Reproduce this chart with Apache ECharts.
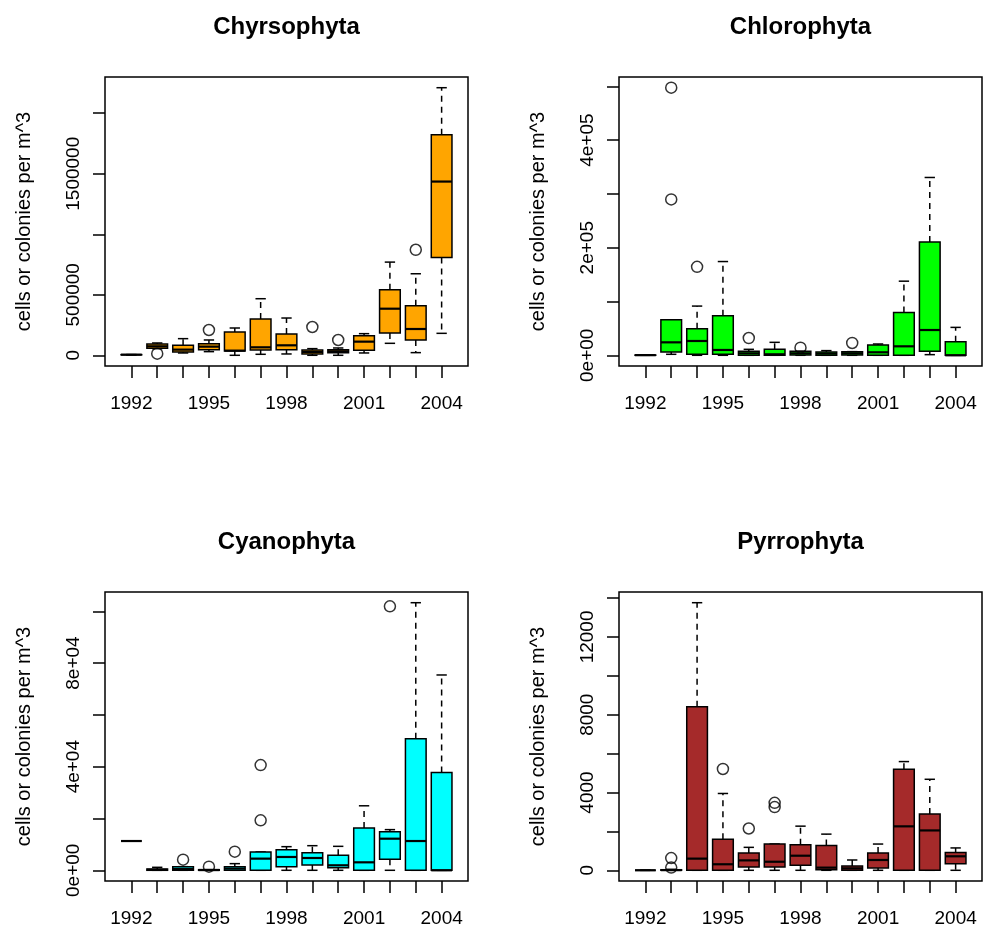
<!DOCTYPE html>
<html><head><meta charset="utf-8">
<script src="https://cdn.jsdelivr.net/npm/echarts@6/dist/echarts.min.js"></script>
<style>html,body{margin:0;padding:0;background:#fff}#c{width:984px;height:929px}</style>
</head><body><div id="c"></div>
<script>
// ---- data ----
const years = ['1992','1993','1994','1995','1996','1997','1998','1999','2000','2001','2002','2003','2004'];
const xLabelYears = ['1992','1995','1998','2001','2004'];
const yAxisTitle = 'cells or colonies per m^3';

// each row: [lower whisker, Q1, median, Q3, upper whisker]
const chrysophytaStats = [
  [3000, 4000, 5000, 5500, 6000],
  [55000, 57750, 74250, 93500, 101750],
  [19250, 27500, 46750, 82500, 137500],
  [30250, 46750, 71500, 96250, 126500],
  [0, 35750, 38500, 192500, 225500],
  [8250, 44000, 66000, 299750, 467500],
  [11000, 46750, 82500, 176000, 308000],
  [0, 11000, 27500, 44000, 55000],
  [0, 22000, 33000, 46750, 60500],
  [19250, 41250, 112750, 162250, 178750],
  [99000, 184250, 385000, 541750, 770000],
  [22000, 126500, 217250, 409750, 673750],
  [181500, 808500, 1435500, 1823250, 2211000]
];
const chrysophytaOutliers = [['1993', 13750], ['1995', 209000], ['1999', 233750], ['2000', 126500], ['2003', 871750]];
const chrysophytaTicks = [0, 500000, 1000000, 1500000, 2000000];
const chrysophytaLabelValues = [0, 500000, 1500000];
const chrysophytaLabels = ['0', '500000', '1500000'];

const chlorophytaStats = [
  [0, 0, 300, 500, 800],
  [1850, 6200, 24100, 66000, 66000],
  [0, 1850, 26600, 49400, 91500],
  [0, 1850, 9900, 73500, 174300],
  [0, 0, 3700, 7400, 11100],
  [0, 0, 1850, 11100, 24100],
  [0, 600, 3700, 7400, 7400],
  [0, 0, 3100, 6200, 8700],
  [0, 600, 3700, 6800, 6800],
  [0, 0, 5600, 19200, 21000],
  [0, 0, 16700, 79700, 137800],
  [1200, 7400, 47000, 210700, 330600],
  [0, 0, 0, 25300, 51900]
];
const chlorophytaOutliers = [['1993', 289800], ['1993', 497500], ['1994', 164400], ['1996', 32100], ['1998', 14200], ['2000', 22900]];
const chlorophytaTicks = [0, 100000, 200000, 300000, 400000, 500000];
const chlorophytaLabelValues = [0, 200000, 400000];
const chlorophytaLabels = ['0e+00', '2e+05', '4e+05'];

const cyanophytaStats = [
  [11300, 11300, 11300, 11300, 11300],
  [0, 0, 200, 500, 1150],
  [0, 0, 500, 1400, 1400],
  [0, 0, 100, 250, 250],
  [0, 0, 650, 1400, 2570],
  [0, 0, 4500, 7070, 7070],
  [0, 1400, 5140, 7970, 9120],
  [0, 2060, 4750, 6800, 9500],
  [0, 1030, 1930, 5780, 9250],
  [0, 0, 3080, 16300, 24900],
  [0, 4240, 12200, 14900, 15700],
  [0, 0, 11300, 50800, 103300],
  [0, 0, 0, 37800, 75400]
];
const cyanophytaOutliers = [['1994', 4100], ['1995', 1400], ['1996', 7200], ['1997', 19300], ['1997', 40600], ['2002', 101900]];
const cyanophytaTicks = [0, 20000, 40000, 60000, 80000, 100000];
const cyanophytaLabelValues = [0, 40000, 80000];
const cyanophytaLabels = ['0e+00', '4e+04', '8e+04'];

const pyrrophytaStats = [
  [0, 0, 0, 0, 0],
  [0, 0, 10, 30, 50],
  [0, 0, 600, 8410, 13760],
  [0, 0, 310, 1600, 3950],
  [0, 170, 510, 890, 1180],
  [0, 170, 440, 1350, 1350],
  [0, 256, 750, 1320, 2270],
  [0, 34, 137, 1280, 1860],
  [0, 0, 100, 220, 530],
  [0, 120, 530, 890, 1350],
  [0, 0, 2260, 5200, 5590],
  [0, 0, 2050, 2890, 4680],
  [0, 340, 720, 920, 1150]
];
const pyrrophytaOutliers = [['1993', 630], ['1993', 140], ['1995', 5210], ['1996', 2150], ['1997', 3470], ['1997', 3250]];
const pyrrophytaTicks = [0, 2000, 4000, 6000, 8000, 10000, 12000, 14000];
const pyrrophytaLabelValues = [0, 4000, 8000, 12000];
const pyrrophytaLabels = ['0', '4000', '8000', '12000'];

// ---- layout / style ----
const FONT = '"Liberation Sans", Arial, Helvetica, sans-serif';
const panels = [
  {title: 'Chyrsophyta', color: '#FFA500', stats: chrysophytaStats, outliers: chrysophytaOutliers,
   ticks: chrysophytaTicks, labelValues: chrysophytaLabelValues, labels: chrysophytaLabels,
   grid: {left: 105, top: 77, width: 363, height: 289}},
  {title: 'Chlorophyta', color: '#00FF00', stats: chlorophytaStats, outliers: chlorophytaOutliers,
   ticks: chlorophytaTicks, labelValues: chlorophytaLabelValues, labels: chlorophytaLabels,
   grid: {left: 619, top: 77, width: 363, height: 289}},
  {title: 'Cyanophyta', color: '#00FFFF', stats: cyanophytaStats, outliers: cyanophytaOutliers,
   ticks: cyanophytaTicks, labelValues: cyanophytaLabelValues, labels: cyanophytaLabels,
   grid: {left: 105, top: 592, width: 363, height: 289}},
  {title: 'Pyrrophyta', color: '#A52A2A', stats: pyrrophytaStats, outliers: pyrrophytaOutliers,
   ticks: pyrrophytaTicks, labelValues: pyrrophytaLabelValues, labels: pyrrophytaLabels,
   grid: {left: 619, top: 592, width: 363, height: 289}}
];

const LW = 1.5;
const xPositions = years.map((y, i) => i + 1);
const xLabelPositions = xLabelYears.map(y => years.indexOf(y) + 1);

const option = {
  animation: false,
  backgroundColor: '#fff',
  title: [], grid: [], xAxis: [], yAxis: [], series: []
};

panels.forEach((p, i) => {
  const allVals = p.stats.flat().concat(p.outliers.map(o => o[1]));
  const lo = Math.min(...allVals), hi = Math.max(...allVals);
  const pad = (hi - lo) * 0.04;
  const n = years.length;
  option.title.push({
    text: p.title,
    left: p.grid.left + p.grid.width / 2,
    top: p.grid.top - 62,
    textAlign: 'center',
    textVerticalAlign: 'top',
    padding: 0,
    textStyle: {fontFamily: FONT, fontSize: 24, fontWeight: 'bold', color: '#000'}
  });
  option.grid.push(Object.assign({show: true, borderColor: '#000', borderWidth: LW, backgroundColor: 'transparent', containLabel: false}, p.grid));
  option.xAxis.push({
    type: 'value', gridIndex: i,
    min: 0.5 - n * 0.04, max: n + 0.5 + n * 0.04,
    splitLine: {show: false},
    axisLine: {show: false, onZero: false},
    axisTick: {show: true, inside: false, length: 12, lineStyle: {color: '#000', width: LW}, customValues: xPositions},
    axisLabel: {show: true, customValues: xLabelPositions, margin: 28,
      formatter: v => years[Math.round(v) - 1],
      fontFamily: FONT, fontSize: 19, color: '#000'}
  });
  option.yAxis.push({
    type: 'value', gridIndex: i,
    min: lo - pad, max: hi + pad,
    splitLine: {show: false},
    axisLine: {show: false, onZero: false},
    axisTick: {show: true, inside: false, length: 12, lineStyle: {color: '#000', width: LW}, customValues: p.ticks},
    axisLabel: {show: true, customValues: p.labelValues, rotate: 90, margin: 22,
      formatter: v => { const k = p.labelValues.findIndex(t => Math.abs(t - v) < 1e-6 * Math.max(1, Math.abs(t))); return k >= 0 ? p.labels[k] : ''; },
      fontFamily: FONT, fontSize: 19, color: '#000'},
    name: yAxisTitle, nameLocation: 'middle', nameGap: 71,
    nameTextStyle: {fontFamily: FONT, fontSize: 20, color: '#000'}
  });
  option.series.push({
    type: 'custom', xAxisIndex: i, yAxisIndex: i, silent: true, clip: false,
    encode: {x: 0, y: [1, 2, 3, 4, 5]},
    data: p.stats.map((s, k) => [xPositions[k]].concat(s)),
    renderItem: (params, api) => {
      const x = api.value(0);
      const v = [1, 2, 3, 4, 5].map(k => api.value(k));
      const c = v.map(val => api.coord([x, val]));
      const px = c[0][0];
      const half = api.size([0.8, 0])[0] / 2;
      const sh = half / 2;
      const black = '#000';
      const children = [
        {type: 'line', shape: {x1: px, y1: c[3][1], x2: px, y2: c[4][1]}, style: {stroke: black, lineWidth: LW, lineDash: [6, 5]}},
        {type: 'line', shape: {x1: px, y1: c[1][1], x2: px, y2: c[0][1]}, style: {stroke: black, lineWidth: LW, lineDash: [6, 5]}},
        {type: 'line', shape: {x1: px - sh, y1: c[4][1], x2: px + sh, y2: c[4][1]}, style: {stroke: black, lineWidth: LW}},
        {type: 'line', shape: {x1: px - sh, y1: c[0][1], x2: px + sh, y2: c[0][1]}, style: {stroke: black, lineWidth: LW}},
        {type: 'rect', shape: {x: px - half, y: c[3][1], width: half * 2, height: c[1][1] - c[3][1]}, style: {fill: p.color, stroke: black, lineWidth: LW}},
        {type: 'line', shape: {x1: px - half, y1: c[2][1], x2: px + half, y2: c[2][1]}, style: {stroke: black, lineWidth: 2.2}}
      ];
      return {type: 'group', children};
    }
  });
  option.series.push({
    type: 'scatter', xAxisIndex: i, yAxisIndex: i, silent: true,
    symbol: 'circle', symbolSize: 11,
    itemStyle: {color: 'rgba(0,0,0,0)', borderColor: '#000', borderWidth: LW},
    data: p.outliers.map(o => [years.indexOf(o[0]) + 1, o[1]]),
    z: 5
  });
});

const chart = echarts.init(document.getElementById('c'), null, {renderer: 'canvas'});
chart.setOption(option);
</script>
</body></html>
